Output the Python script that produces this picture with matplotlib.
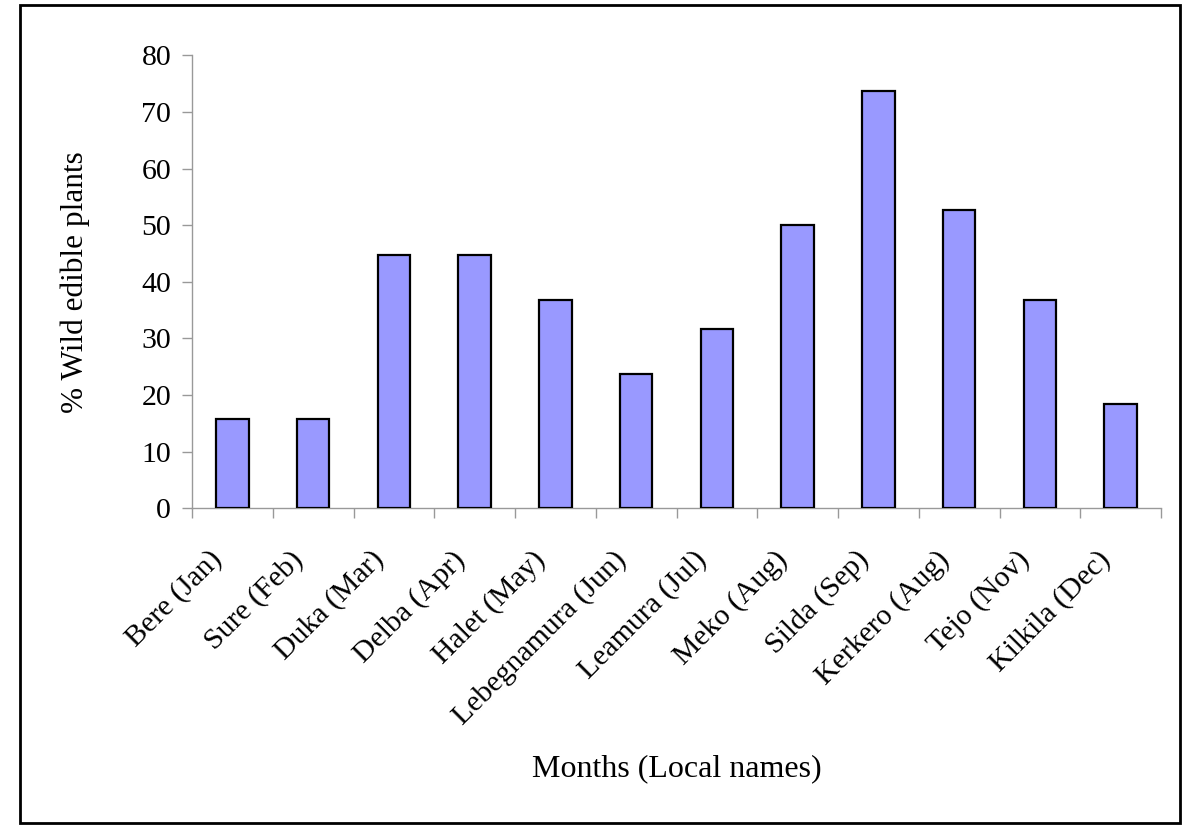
import numpy as np
import matplotlib.pyplot as plt
from matplotlib.patches import Rectangle
from matplotlib.transforms import ScaledTranslation

plt.rcParams['font.family'] = ['Liberation Serif', 'DejaVu Serif']

months = ['Bere (Jan)', 'Sure (Feb)', 'Duka (Mar)', 'Delba (Apr)', 'Halet (May)',
          'Lebegnamura (Jun)', 'Leamura (Jul)', 'Meko (Aug)', 'Silda (Sep)',
          'Kerkero (Aug)', 'Tejo (Nov)', 'Kilkila (Dec)']
percent = [15.8, 15.8, 44.7, 44.7, 36.8, 23.7, 31.6, 50.0, 73.7, 52.6, 36.8, 18.4]
y_ticks = [0, 10, 20, 30, 40, 50, 60, 70, 80]

fig = plt.figure(figsize=(12, 8.38), dpi=100)
ax = fig.add_axes([0.16, 0.3934, 0.8075, 0.5406])

x = np.arange(len(months))
ax.bar(x, percent, width=0.4, color='#9999FF', edgecolor='black', linewidth=1.6, zorder=3)

ax.set_xlim(-0.5, len(months) - 0.5)
ax.set_ylim(0, 80)
ax.set_yticks(y_ticks)
ax.tick_params(axis='y', labelsize=21.5, length=7, color='#999999', width=1, pad=8)

# category labels centred on bars, tick marks on category boundaries
ax.set_xticks(x)
ax.set_xticklabels(months, rotation=45, ha='right', va='center',
                   rotation_mode='anchor', fontsize=21.5)
ax.tick_params(axis='x', length=0, pad=34)
shift = ScaledTranslation(-0.14, 0, fig.dpi_scale_trans)
for lbl in ax.get_xticklabels():
    lbl.set_transform(lbl.get_transform() + shift)
ax.set_xticks(np.arange(-0.5, len(months)), minor=True)
ax.tick_params(axis='x', which='minor', length=7, color='#999999', width=1)

for side in ['top', 'right']:
    ax.spines[side].set_visible(False)
for side in ['left', 'bottom']:
    ax.spines[side].set_color('#999999')
    ax.spines[side].set_linewidth(1)

ax.set_ylabel('% Wild edible plants', fontsize=22.5)
ax.yaxis.set_label_coords(-0.105, 0.5)
ax.set_xlabel('Months (Local names)', fontsize=23)
ax.xaxis.set_label_coords(0.5, -0.542)

# outer chart frame
fig.patches.append(Rectangle((0.0167, 0.0179), 0.9667, 0.9767, transform=fig.transFigure,
                             fill=False, edgecolor='black', linewidth=2))

fig.savefig('out.png', dpi=100)
